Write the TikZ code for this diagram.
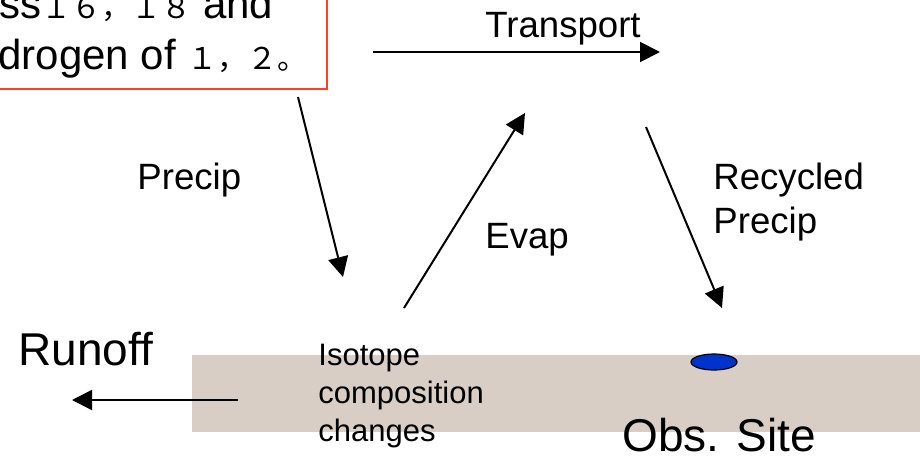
\documentclass[tikz,border=0pt]{standalone}
\usepackage{fontspec}
\setmainfont{Liberation Sans}
\newfontfamily\cjk{Noto Sans CJK JP}
\usetikzlibrary{arrows.meta,shapes.geometric}
\definecolor{boxred}{RGB}{255,64,32}
\definecolor{ground}{RGB}{216,206,198}
\definecolor{siteblue}{RGB}{0,51,204}
\begin{document}
\begin{tikzpicture}[x=0.5pt,y=-0.5pt,
  txt/.style={inner sep=0pt, anchor=base west},
  big/.style={txt, font=\fontsize{23}{27}\selectfont},
  mid/.style={txt, font=\fontsize{18.3}{22}\selectfont},
  small/.style={txt, font=\fontsize{15.5}{19}\selectfont},
  boxtxt/.style={txt, font=\fontsize{21}{25}\selectfont},
  flow/.style={line width=1pt, -{Triangle[length=10pt,width=10pt]}}]
\useasboundingbox (0,0) rectangle (920,461);
\clip (0,0) rectangle (920,461);
% ground
\node[fill=ground, inner sep=0pt, minimum width=370pt, minimum height=38.5pt, anchor=north west] (ground) at (192,355) {};
% site
\node[ellipse, draw, fill=siteblue, line width=0.6pt, minimum width=23pt, minimum height=8pt, inner sep=0pt] (site) at (714,362) {};
% text box
\node[draw=boxred, line width=1.2pt, inner sep=0pt, minimum width=180pt, minimum height=60pt, anchor=south east] (box) at (328,90) {};
\node[boxtxt] (l1) at (-1,18) {ss{\cjk\fontsize{15}{18}\selectfont １６，１８} and};
\node[boxtxt] (l2) at (-2,69) {drogen of {\cjk\fontsize{15}{18}\selectfont １，２。}};
% labels
\node[mid] (transport) at (485,37) {Transport};
\node[mid] (precip) at (137,189) {Precip};
\node[mid] (evap) at (485,248) {Evap};
\node[mid] (rec1) at (713,189) {Recycled};
\node[mid] (rec2) at (713,233) {Precip};
\node[big] (runoff) at (18,365) {Runoff};
\node[big] (obs) at (622,451) {Obs. Site};
\node[small] (iso1) at (318,365) {Isotope};
\node[small] (iso2) at (318,403) {composition};
\node[small] (iso3) at (318,441) {changes};
% arrow ends
\coordinate (trA) at (373,52);
\coordinate (trB) at (660,52);
\coordinate (prA) at (298,97);
\coordinate (prB) at (343,277);
\coordinate (evA) at (404,308);
\coordinate (evB) at (525,113);
\coordinate (rcA) at (646,127);
\coordinate (rcB) at (722,308);
\coordinate (roA) at (238,400);
\coordinate (roB) at (72,400);
\draw[flow] (trA) -- (trB);
\draw[flow] (prA) -- (prB);
\draw[flow] (evA) -- (evB);
\draw[flow] (rcA) -- (rcB);
\draw[flow] (roA) -- (roB);
\end{tikzpicture}
\end{document}
